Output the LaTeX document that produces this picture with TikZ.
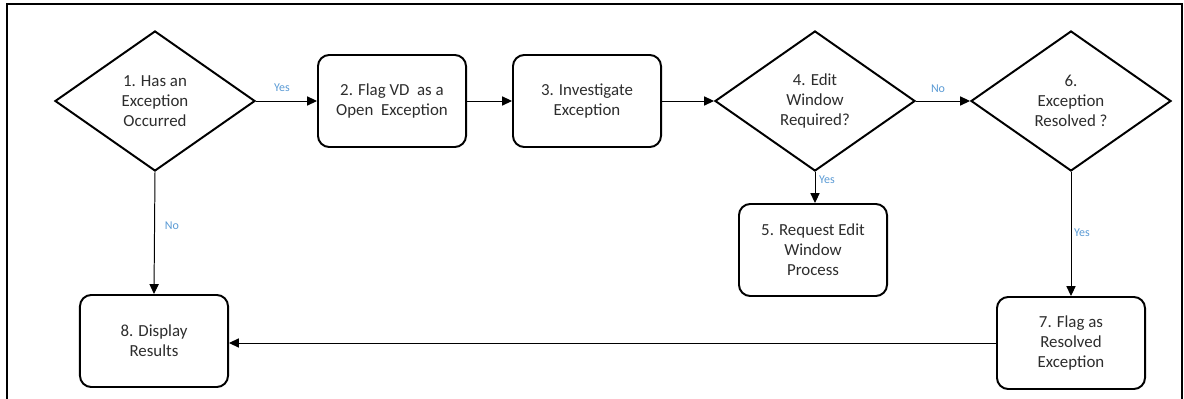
\documentclass[tikz,border=0pt]{standalone}
\usepackage{fontspec}
\setmainfont{Carlito}
\usetikzlibrary{shapes.geometric,arrows.meta}
\definecolor{lbl}{RGB}{91,155,213}
\definecolor{txt}{RGB}{45,45,45}
\tikzset{
  procbox/.style={draw=black, line width=1.4pt, rounded corners=8pt, minimum width=3.7cm, minimum height=2.3cm, align=center, text=txt, font=\fontsize{12}{14.2}\selectfont},
  decbox/.style={draw=black, line width=1.4pt, shape=diamond, minimum width=5cm, minimum height=3.5cm, inner sep=0pt, align=center, text=txt, font=\fontsize{12}{14.2}\selectfont},
  conn/.style={draw=black, line width=0.7pt, -{Triangle[length=7pt,width=6.5pt]}},
  lab/.style={text=lbl, font=\fontsize{8.5}{10}\selectfont, inner sep=0pt}
}
\begin{document}
\begin{tikzpicture}[x=0.025cm, y=-0.025cm]
\useasboundingbox (0,0) rectangle (1184,399);
\fill[white] (0,0) rectangle (1184,399);
\draw[line width=1.4pt] (7,400) -- (7,4) -- (1182,4) -- (1182,400);

\node[decbox] (d1) at (155,101) {1. Has an\\Exception\\Occurred};
\node[procbox] (b2) at (392,101) {2. Flag VD~ as a\\Open~ Exception};
\node[procbox] (b3) at (587,101) {3. Investigate\\Exception};
\node[decbox] (d4) at (815,101) {4. Edit\\Window\\Required?};
\node[decbox] (d6) at (1071,101) {6.\\Exception\\Resolved ?};
\node[procbox] (b5) at (813,250) {5. Request Edit\\Window\\Process};
\node[procbox] (b7) at (1071,343) {7. Flag as\\Resolved\\Exception};
\node[procbox] (b8) at (154,341) {8. Display\\Results};

\draw[conn] (d1.east) -- (b2.west);
\draw[conn] (b2.east) -- (b3.west);
\draw[conn] (b3.east) -- (d4.west);
\draw[conn] (d4.east) -- (d6.west);
\draw[conn] (d4.south) -- (d4.south |- b5.north);
\draw[conn] (d6.south) -- (b7.north);
\draw[conn] (b7.west) -- (b8.east |- b7.west);
\draw[conn] (d1.south) -- (b8.north);

\node[lab] (l1) at (282,88) {Yes};
\node[lab] (l2) at (938,89) {No};
\node[lab] (l3) at (827,180) {Yes};
\node[lab] (l4) at (172,226) {No};
\node[lab] (l5) at (1082,233) {Yes};
\end{tikzpicture}
\end{document}
